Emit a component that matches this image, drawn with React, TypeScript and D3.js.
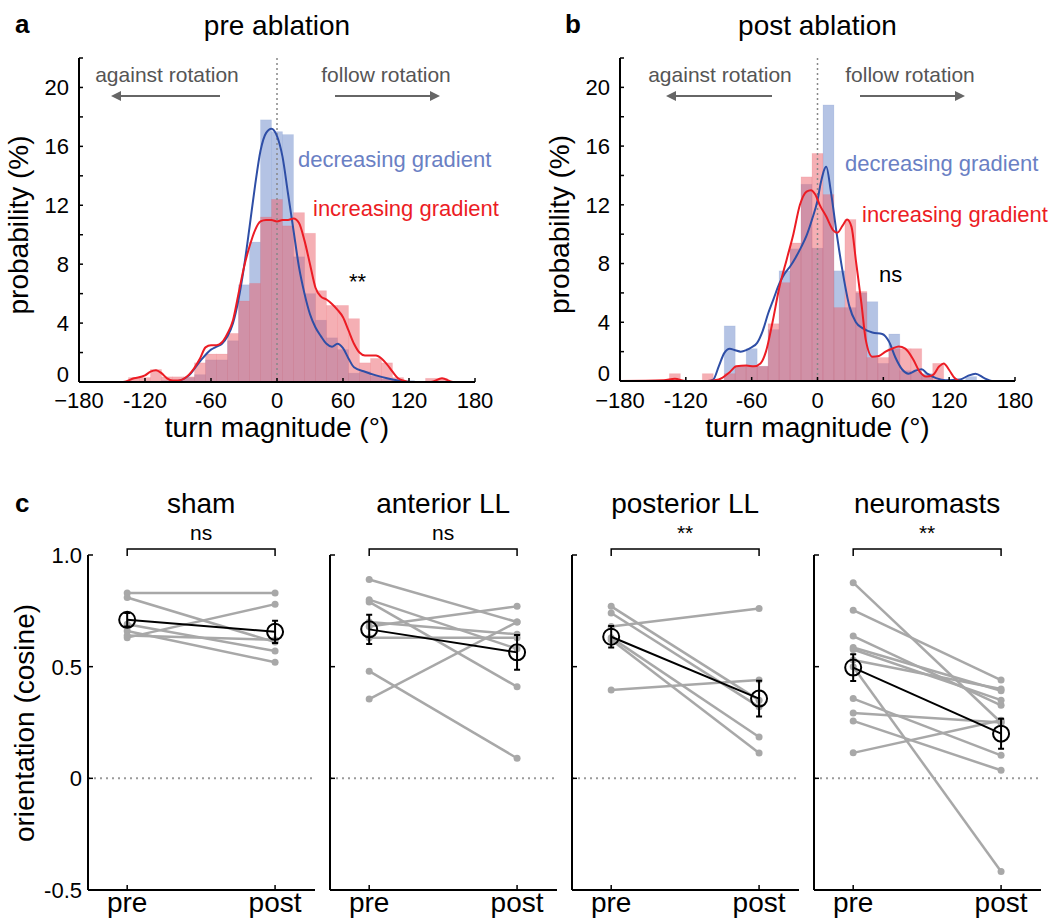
import React from 'react';
import * as d3 from 'd3';

// ---------- data: histograms (bin centres in degrees, 10° bins) ----------
const binCenters = [-130,-120,-110,-100,-90,-80,-70,-60,-50,-40,-30,-20,-10,0,10,20,30,40,50,60,70,80,90,100,110,120,130,140,150];
const preDecreasing = [0,0,0,0.1,0,0.3,0.5,1.5,1.5,2.8,6.6,9.5,17.8,17.0,16.8,8.5,6.0,4.2,3.0,2.2,0.6,0.7,0.4,0.2,0.1,0.1,0,0,0];
const preIncreasing = [0.3,0.3,0.85,0.35,0.35,0.35,1.3,1.9,1.9,3.3,5.5,6.7,11.2,12.4,10.6,11.5,10.1,6.2,5.2,5.2,4.3,1.3,1.6,1.3,0.3,0,0,0.25,0.25];
const postDecreasing = [0,0,0,0,0,3.75,1.0,2.2,1.0,3.5,7.5,9.0,13.4,9.05,18.8,7.5,5.0,6.0,5.4,1.2,3.2,0.7,0.6,0.5,0,0,0,0.3,0];
const postIncreasing = [0.5,0,0,0.5,0,0.5,1.0,1.0,1.0,3.9,6.7,9.4,13.9,15.5,12.7,5.0,11.0,6.1,1.6,1.6,2.2,2.2,2.2,0.3,1.2,0,0,0,0];

// ---------- data: density curves [angle, %] ----------
const preDecKde: [number, number][] = [[-180,0],[-95,0],[-88,0.1],[-80,0.45],[-70,1.4],[-60,2.2],[-55,2.4],[-50,2.6],[-45,3.1],[-40,4.0],[-35,5.6],[-30,7.8],[-25,10.5],[-20,13.3],[-15,15.7],[-10,16.9],[-5,17.2],[0,16.7],[5,15.3],[10,12.8],[15,10.3],[20,7.8],[25,6.0],[30,4.6],[35,3.7],[40,3.1],[45,2.6],[50,2.4],[55,2.6],[60,2.3],[65,1.6],[70,1.0],[80,0.7],[90,0.45],[100,0.25],[110,0.1],[120,0],[180,0]];
const preIncKde: [number, number][] = [[-180,0],[-140,0],[-130,0.25],[-120,0.45],[-115,0.7],[-110,0.8],[-105,0.6],[-100,0.25],[-95,0.1],[-90,0.1],[-80,0.5],[-70,1.6],[-65,2.35],[-60,2.5],[-55,2.5],[-50,2.7],[-45,3.3],[-40,4.2],[-35,6.0],[-30,7.8],[-25,9.2],[-20,10.3],[-15,10.9],[-10,11.0],[-5,11.0],[0,10.9],[5,11.0],[10,11.0],[15,11.1],[20,10.8],[25,9.6],[30,8.0],[35,6.4],[40,5.8],[45,5.6],[50,5.3],[55,4.9],[60,4.4],[65,3.5],[70,2.6],[75,2.0],[80,1.8],[85,1.8],[90,1.8],[95,1.6],[100,1.2],[105,0.7],[110,0.25],[115,0.1],[120,0],[140,0],[150,0.25],[160,0],[180,0]];
const postDecKde: [number, number][] = [[-180,0],[-100,0],[-95,0.1],[-90,1.0],[-85,1.9],[-80,2.2],[-75,2.1],[-70,2.0],[-65,2.1],[-60,2.3],[-55,2.6],[-50,3.4],[-45,4.6],[-40,5.6],[-35,6.6],[-30,7.3],[-25,7.8],[-20,8.4],[-15,9.1],[-10,9.9],[-5,11.0],[0,12.3],[3,13.5],[8,14.6],[12,13.0],[17,10.3],[23,7.4],[29,5.1],[35,4.0],[41,3.6],[50,3.3],[59,3.2],[65,2.7],[71,1.6],[77,0.8],[83,0.5],[89,0.7],[95,0.8],[100,0.5],[108,0.2],[117,0.05],[130,0.1],[137,0.35],[144,0.5],[152,0.2],[159,0],[180,0]];
const postIncKde: [number, number][] = [[-180,0],[-140,0.05],[-130,0.15],[-120,0],[-100,0],[-90,0.1],[-80,0.6],[-74,1.0],[-65,1.05],[-58,1.0],[-52,1.2],[-47,2.0],[-41,4.0],[-35,6.3],[-28,8.3],[-22,10.0],[-16,12.0],[-10,12.9],[-6,13.0],[-2,12.7],[2,12.0],[8,11.2],[14,10.3],[18,10.1],[23,10.6],[27,11.0],[31,10.5],[35,8.2],[40,5.3],[44,2.8],[50,1.65],[56,1.7],[62,2.0],[68,2.2],[74,2.35],[80,2.2],[87,1.5],[93,0.65],[99,0.3],[105,0.4],[111,1.0],[115,1.2],[120,0.75],[125,0.2],[130,0],[180,0]];

const histYTicks = [0,4,8,12,16,20];
const histYMinor = [0,2,4,6,8,10,12,14,16,18,20,22];
const histXTicks = [-180,-120,-60,0,60,120,180];
const histXLabels = ['\u2212180','-120','-60','0','60','120','180'];

// ---------- data: panel c ----------
const groups = ['sham','anterior LL','posterior LL','neuromasts'];
const signif = ['ns','ns','**','**'];
const preVals = [
  [0.83,0.81,0.63,0.69,0.66,0.64],
  [0.89,0.80,0.79,0.70,0.68,0.63,0.48,0.355],
  [0.68,0.77,0.74,0.63,0.62,0.395],
  [0.876,0.753,0.637,0.586,0.577,0.53,0.50,0.357,0.293,0.257,0.114],
];
const postVals = [
  [0.83,0.61,0.78,0.57,0.52,0.62],
  [0.70,0.58,0.41,0.645,0.77,0.63,0.09,0.70],
  [0.76,0.35,0.32,0.185,0.113,0.44],
  [0.25,0.44,0.327,0.392,0.35,0.40,-0.417,0.103,0.25,0.036,0.26],
];
const meanPre = [0.71,0.667,0.634,0.496];
const meanPost = [0.656,0.564,0.357,0.20];
const semPre = [0.03,0.066,0.048,0.06];
const semPost = [0.05,0.078,0.08,0.067];
const orientTicks = [1.0,0.5,0,-0.5];
const orientLabels = ['1.0','0.5','0','-0.5'];
const conditions = ['pre','post'];

const FONT = "'Liberation Sans', Arial, Helvetica, sans-serif";
const BLUE_BAR = '#6987c9';
const RED_BAR = '#eb5f69';
const BLUE_LINE = '#2e4ea6';
const RED_LINE = '#ec1c24';
const BLUE_TEXT = '#6a80c4';
const ARROW = '#666666';

type HistProps = {
  x0: number; x1: number; yTop: number; yBot: number; labelX: number;
  dec: number[]; inc: number[]; decKde: [number, number][]; incKde: [number, number][];
  label: string; title: string;
  againstX: number; followX: number; arrowLeft: [number, number]; arrowRight: [number, number];
  decText: [number, number]; incText: [number, number]; sig: string; sigPos: [number, number];
  arrowId: string;
};

function HistPanel(p: HistProps) {
  const x = d3.scaleLinear().domain([-180, 180]).range([p.x0, p.x1]);
  const y = d3.scaleLinear().domain([0, 22]).range([p.yBot, p.yTop]);
  const line = d3.line<[number, number]>().x(d => x(d[0])).y(d => y(d[1])).curve(d3.curveMonotoneX);
  const mid = (p.x0 + p.x1) / 2;
  const bars = (vals: number[], color: string, key: string) =>
    binCenters.map((c, i) => vals[i] > 0 ? (
      <rect key={key + i} x={x(c - 5)} y={y(vals[i])} width={x(c + 5) - x(c - 5)} height={y(0) - y(vals[i])}
        fill={color} fillOpacity={0.5} stroke={color} strokeOpacity={0.15} strokeWidth={0.8} />
    ) : null);
  return (
    <g>
      <text x={p.labelX} y={33} fontSize={26} fontWeight="bold" fontFamily={FONT}>{p.label}</text>
      <text x={mid} y={35} fontSize={28} textAnchor="middle" fontFamily={FONT}>{p.title}</text>
      {bars(p.dec, BLUE_BAR, 'd')}
      {bars(p.inc, RED_BAR, 'i')}
      <line x1={x(0)} x2={x(0)} y1={p.yTop} y2={p.yBot} stroke="#888" strokeWidth={1.5} strokeDasharray="2,3" />
      <path d={line(p.decKde) || ''} fill="none" stroke={BLUE_LINE} strokeWidth={2} />
      <path d={line(p.incKde) || ''} fill="none" stroke={RED_LINE} strokeWidth={2} />
      {/* axes */}
      <line x1={p.x0} x2={p.x0} y1={p.yTop} y2={p.yBot} stroke="#000" strokeWidth={2} />
      <line x1={p.x0} x2={p.x1} y1={p.yBot} y2={p.yBot} stroke="#000" strokeWidth={2} />
      {histYMinor.map(t => (
        <line key={'ym' + t} x1={p.x0} x2={p.x0 + 4} y1={y(t)} y2={y(t)} stroke="#000" strokeWidth={1.5} />
      ))}
      {histYTicks.map(t => (
        <text key={'yl' + t} x={p.x0 - 10} y={y(t) - (t === 0 ? 8 : 0)} dy="0.36em" fontSize={22} textAnchor="end" fontFamily={FONT}>{t}</text>
      ))}
      {histXTicks.map((t, i) => (
        <g key={'xt' + t}>
          <line x1={x(t)} x2={x(t)} y1={p.yBot} y2={p.yBot - 4} stroke="#000" strokeWidth={1.5} />
          <text x={x(t)} y={408} fontSize={22} textAnchor="middle" fontFamily={FONT}>{histXLabels[i]}</text>
        </g>
      ))}
      <text x={mid} y={437} fontSize={28} textAnchor="middle" fontFamily={FONT}>turn magnitude (°)</text>
      <text transform={`translate(${p.x0 - 51},${(p.yTop + p.yBot) / 2 + 5}) rotate(-90)`} fontSize={28} textAnchor="middle" fontFamily={FONT}>probability (%)</text>
      {/* annotations */}
      <text x={p.againstX} y={82} fontSize={21} textAnchor="middle" fill="#555" fontFamily={FONT}>against rotation</text>
      <text x={p.followX} y={82} fontSize={21} textAnchor="middle" fill="#555" fontFamily={FONT}>follow rotation</text>
      <line x1={p.arrowLeft[0]} x2={p.arrowLeft[1] + 6} y1={96} y2={96} stroke={ARROW} strokeWidth={2} markerEnd={`url(#${p.arrowId})`} />
      <line x1={p.arrowRight[0]} x2={p.arrowRight[1] - 6} y1={96} y2={96} stroke={ARROW} strokeWidth={2} markerEnd={`url(#${p.arrowId})`} />
      <text x={p.decText[0]} y={p.decText[1]} fontSize={22} fill={BLUE_TEXT} fontFamily={FONT}>decreasing gradient</text>
      <text x={p.incText[0]} y={p.incText[1]} fontSize={22} fill={RED_LINE} fontFamily={FONT}>increasing gradient</text>
      <text x={p.sigPos[0]} y={p.sigPos[1]} fontSize={22} fill="#000" fontFamily={FONT}>{p.sig}</text>
    </g>
  );
}

function OrientPanel({ i }: { i: number }) {
  const ax = 88 + 242 * i;
  const xs = d3.scaleLinear().domain([0.735, 2.27]).range([ax, ax + 227]);
  const ys = d3.scaleLinear().domain([-0.5, 1.0]).range([890, 555]);
  const xPre = xs(1), xPost = xs(2);
  const gray = '#a8a8a8';
  return (
    <g>
      <text x={(xPre + xPost) / 2} y={513} fontSize={28} textAnchor="middle" fontFamily={FONT}>{groups[i]}</text>
      <text x={(xPre + xPost) / 2} y={540} fontSize={21} textAnchor="middle" fontFamily={FONT}>{signif[i]}</text>
      <path d={`M${xPre},556V549H${xPost}V556`} fill="none" stroke="#000" strokeWidth={1.5} />
      <line x1={ax} x2={ax + 227} y1={ys(0)} y2={ys(0)} stroke="#9a9a9a" strokeWidth={2} strokeDasharray="2,4" />
      {preVals[i].map((v, k) => (
        <g key={'l' + k}>
          <line x1={xPre} x2={xPost} y1={ys(v)} y2={ys(postVals[i][k])} stroke={gray} strokeWidth={2.5} />
          <circle cx={xPre} cy={ys(v)} r={3.5} fill={gray} />
          <circle cx={xPost} cy={ys(postVals[i][k])} r={3.5} fill={gray} />
        </g>
      ))}
      <line x1={xPre} x2={xPost} y1={ys(meanPre[i])} y2={ys(meanPost[i])} stroke="#000" strokeWidth={2} />
      {[[xPre, meanPre[i], semPre[i]], [xPost, meanPost[i], semPost[i]]].map(([cx, m, s], k) => (
        <g key={'m' + k}>
          <path d={`M${cx - 3},${ys(m + s)}H${cx + 3}M${cx},${ys(m + s)}V${ys(m - s)}M${cx - 3},${ys(m - s)}H${cx + 3}`} stroke="#000" strokeWidth={2} fill="none" />
          <circle cx={cx} cy={ys(m)} r={8} fill="none" stroke="#000" strokeWidth={2} />
        </g>
      ))}
      <line x1={ax} x2={ax} y1={555} y2={890} stroke="#000" strokeWidth={2} />
      <line x1={ax} x2={ax + 227} y1={890} y2={890} stroke="#000" strokeWidth={2} />
      {orientTicks.map((t, k) => (
        <g key={'yt' + t}>
          <line x1={ax} x2={ax + 5} y1={ys(t)} y2={ys(t)} stroke="#000" strokeWidth={1.5} />
          {i === 0 ? <text x={ax - 6} y={ys(t)} dy="0.36em" fontSize={22} textAnchor="end" fontFamily={FONT}>{orientLabels[k]}</text> : null}
        </g>
      ))}
      {[xPre, xPost].map((cx, k) => (
        <g key={'xt' + k}>
          <line x1={cx} x2={cx} y1={890} y2={885} stroke="#000" strokeWidth={1.5} />
          <text x={cx} y={912} fontSize={28} textAnchor="middle" fontFamily={FONT}>{conditions[k]}</text>
        </g>
      ))}
    </g>
  );
}

export default function App() {
  return (
    <svg width={1052} height={920} style={{ display: 'block', position: 'absolute', left: 0, top: 0, background: '#fff' }}>
      <defs>
        <marker id="arr" viewBox="0 0 10 10" refX="2" refY="5" markerWidth="5" markerHeight="5" orient="auto">
          <path d="M0,0L10,5L0,10z" fill={ARROW} />
        </marker>
      </defs>
      <rect width={1052} height={920} fill="#fff" />
      <HistPanel x0={79} x1={475} yTop={58} yBot={382} labelX={15} dec={preDecreasing} inc={preIncreasing}
        decKde={preDecKde} incKde={preIncKde} label="a" title="pre ablation"
        againstX={167} followX={386} arrowLeft={[220, 113]} arrowRight={[335, 438]}
        decText={[298, 167]} incText={[313, 216]} sig="**" sigPos={[349, 289]} arrowId="arr" />
      <HistPanel x0={620} x1={1015} yTop={58} yBot={381} labelX={565} dec={postDecreasing} inc={postIncreasing}
        decKde={postDecKde} incKde={postIncKde} label="b" title="post ablation"
        againstX={720} followX={910} arrowLeft={[772, 668]} arrowRight={[860, 963]}
        decText={[845, 171]} incText={[862, 222]} sig="ns" sigPos={[879, 282]} arrowId="arr" />
      <text x={15} y={512} fontSize={26} fontWeight="bold" fontFamily={FONT}>c</text>
      <text transform={`translate(34,723) rotate(-90)`} fontSize={28} textAnchor="middle" fontFamily={FONT}>orientation (cosine)</text>
      {groups.map((g, i) => <OrientPanel key={g} i={i} />)}
    </svg>
  );
}
